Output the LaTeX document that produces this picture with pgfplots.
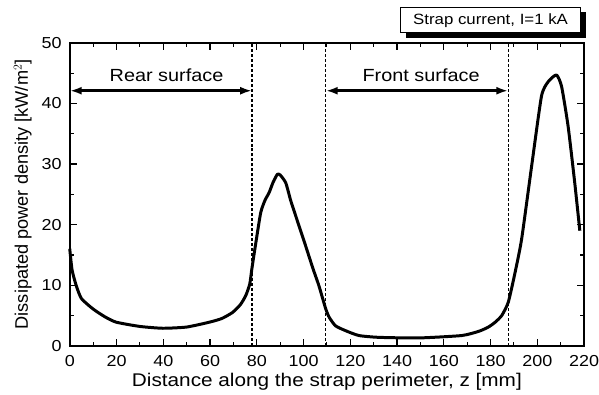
\documentclass[border=0pt]{standalone}
\usepackage{pgfplots}
\pgfplotsset{compat=1.18}
\usepackage{fontspec}
\setmainfont[FakeStretch=1.13]{Liberation Sans}
\newfontfamily\ylfont{Liberation Sans}
\usetikzlibrary{arrows.meta,calc}
\begin{document}
\begin{tikzpicture}
\begin{axis}[
  name=ax,
  at={(0,0)},
  scale only axis,
  width=516bp, height=304bp,
  xmin=0, xmax=220, ymin=0, ymax=50,
  xtick={0,20,...,220}, ytick={0,10,...,50},
  minor x tick num=1, minor y tick num=1,
  tick align=inside,
  major tick length=7bp, minor tick length=4bp,
  every tick/.style={black, line width=1.2bp},
  axis line style={line width=1.5bp},
  tick label style={font=\fontsize{16}{17}\selectfont},
  /pgf/number format/assume math mode=true,
  xticklabel style={inner sep=0pt, anchor=north, yshift=-9.7bp},
  yticklabel style={inner sep=0pt, anchor=east, xshift=-8bp},
  xlabel={Distance along the strap perimeter, z [mm]},
  ylabel={Dissipated power density [kW/m$^2$]},
  xlabel style={font=\fontsize{18.5}{19}\selectfont, at={(rel axis cs:0.5,0)}, anchor=base, inner sep=0pt, yshift=-41bp},
  ylabel style={font=\ylfont\fontsize{18.3}{19}\selectfont, at={(rel axis cs:0,0.5)}, anchor=south, inner sep=0pt, yshift=38bp},
  clip=false,
]
\addplot[black, line width=3bp, line join=round, smooth, tension=0.35] coordinates {
(0,16.0) (1,12.5) (2.8,9.9) (5,7.8) (9.9,6.1) (15,4.8) (19.9,3.9) (30,3.2)
(39.8,2.9) (50,3.1) (59.7,3.9) (65,4.5) (69.6,5.5) (73,6.8) (75.3,8.3)
(77,10.2) (77.9,12.7) (79.6,17) (81.7,22) (83.5,24) (85.3,25.3) (87,27)
(88.8,28.3) (90,28.2) (92.4,26.9) (94.5,24) (96.7,21.4) (100.9,16.5)
(104,12.8) (106.6,9.9) (109.5,6.1) (111,4.7) (113.7,3.3) (118,2.5)
(123.7,1.7) (132.2,1.4) (149.3,1.3) (167.7,1.7) (175,2.4) (179.1,3.1)
(182,3.9) (184.8,5) (187.6,7.2) (190.5,12.1) (193.3,17.6) (197.6,29.7)
(201.8,41.2) (204.7,43.6) (208.2,44.7) (210.4,42.8) (213.2,36.2)
(216,27) (218.2,19)
};
\addplot[black, line width=1.2bp, dash pattern=on 3bp off 2bp] coordinates {(78,0) (78,50)};
\addplot[black, line width=1.2bp, dash pattern=on 3bp off 2bp] coordinates {(109.5,0) (109.5,50)};
\addplot[black, line width=1.2bp, dash pattern=on 3bp off 2bp] coordinates {(187.6,0) (187.6,50)};
\draw[line width=2.7bp, {Latex[length=12bp,width=8bp]}-{Latex[length=12bp,width=8bp]}] (axis cs:0,42.1) -- (axis cs:78,42.1);
\draw[line width=2.7bp, {Latex[length=12bp,width=8bp]}-{Latex[length=12bp,width=8bp]}] (axis cs:109.5,42.1) -- (axis cs:187.6,42.1);
\node[font=\fontsize{17.7}{18}\selectfont, anchor=base] at (axis cs:41.4,43.6) {Rear surface};
\node[font=\fontsize{17.7}{18}\selectfont, anchor=base] at (axis cs:150.3,43.6) {Front surface};
\node[fill=black, draw=black, minimum width=180bp, minimum height=25bp, inner sep=0pt, anchor=south east]
  at ([shift={(1.7bp,5.2bp)}]rel axis cs:1,1) {};
\node[draw, line width=1bp, fill=white, anchor=south east,
  minimum width=180bp, minimum height=25bp, inner sep=1pt,
  font=\fontsize{15}{16}\selectfont]
  at ([shift={(-3.3bp,9.7bp)}]rel axis cs:1,1) {Strap current, I=1 kA};
\path ([shift={(-70bp,-49bp)}]rel axis cs:0,0) rectangle ([shift={(13bp,43bp)}]rel axis cs:1,1);
\end{axis}
\end{tikzpicture}
\end{document}
